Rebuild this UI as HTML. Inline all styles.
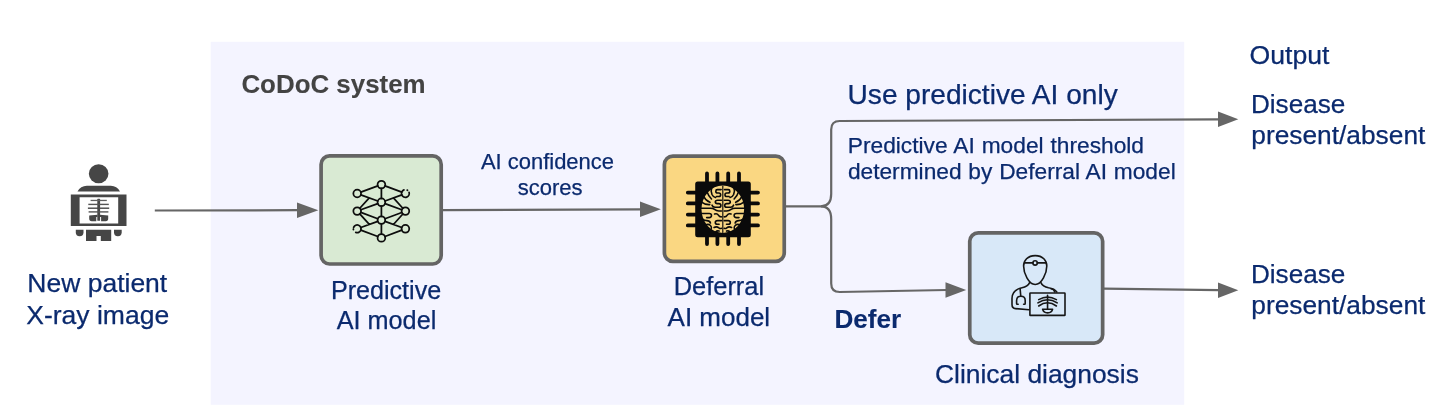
<!DOCTYPE html>
<html lang="en">
<head>
<meta charset="utf-8">
<title>CoDoC system</title>
<style>
html,body{margin:0;padding:0;background:#fff;}
body{width:1440px;height:417px;overflow:hidden;position:relative;font-family:"Liberation Sans",sans-serif;}
svg{position:absolute;left:0;top:0;display:block;will-change:transform;}
text{font-family:"Liberation Sans",sans-serif;}
.t{fill:#0b2a6e;stroke:#0b2a6e;stroke-width:0.25px;stroke-linejoin:round;}
.g{fill:#434343;stroke:#434343;stroke-width:0.25px;stroke-linejoin:round;}
</style>
</head>
<body>
<svg width="1440" height="417" viewBox="0 0 1440 417">
  <rect x="210.700" y="41.800" width="973.500" height="363" fill="#f4f4ff"/>

  <!-- connectors -->
  <g fill="none" stroke="#666" stroke-width="2.200" stroke-linecap="butt">
    <path d="M154.800 210.500L298 210.200"/>
    <path d="M443 210.200L641 209.300"/>
    <path d="M786 206.300H821Q831.200 206.300 831.200 194V129.500Q831.200 121 839.700 121L1219 119.400"/>
    <path d="M821 206.300Q831.200 206.300 831.200 219V283.500Q831.200 292 839.700 292L946.500 290"/>
    <path d="M1104 288.700L1219 290.200"/>
  </g>
  <g fill="#666">
    <path d="M297 202.400L318.300 210.200L297 218Z"/>
    <path d="M640 201.600L660.800 209.300L640 217Z"/>
    <path d="M945.500 282.200L966.200 290L945.500 297.800Z"/>
    <path d="M1218 111.600L1238.300 119.300L1218 127Z"/>
    <path d="M1218 282.500L1238.300 290.200L1218 297.900Z"/>
  </g>

  <!-- boxes -->
  <rect x="321.100" y="155.900" width="120.100" height="108.100" rx="8.500" fill="#d9ead3" stroke="#646464" stroke-width="3.700"/>
  <rect x="664.400" y="156.050" width="119.850" height="105.300" rx="8.500" fill="#fad782" stroke="#646464" stroke-width="3.700"/>
  <rect x="969.750" y="232.850" width="132.900" height="110.300" rx="8.500" fill="#d8e8f8" stroke="#646464" stroke-width="3.700"/>

  <!-- patient x-ray icon -->
  <g fill="#464646">
    <ellipse cx="98.650" cy="173.800" rx="9.800" ry="9.500"/>
    <path d="M77.500 191.400Q80.500 186.200 86.800 185.800H110.800Q117 186.200 120 191.400Z"/>
    <path fill-rule="evenodd" d="M70.800 194.400H126.500V225.900H70.800ZM79.600 197.200V223.600H118.200V197.200Z"/>
    <path d="M75.800 229.800H83.500V232.300A3.850 3.900 0 0 1 75.800 232.300Z"/>
    <path d="M114 229.800H121.700V232.300A3.850 3.900 0 0 1 114 232.300Z"/>
    <path d="M86 229.800H111.200V241H100.800V236.100H96.500V241H86Z"/>
    <rect x="97.300" y="198.800" width="2.800" height="22" rx="0.600"/>
    <rect x="90.600" y="199.800" width="16.200" height="1.300" fill="#606060"/>
    <rect x="88.300" y="203.700" width="20.500" height="1.400" fill="#555"/>
    <rect x="87.900" y="207.500" width="21.300" height="1.400"/>
    <rect x="88.600" y="211.200" width="19.800" height="1.400" fill="#555"/>
    <path d="M89.200 215.400L97.500 214.800V217H96.300V221.300H91.700Q89.200 221.300 89.200 218.600Z"/>
    <path d="M108.200 215.400L99.900 214.800V217H101.100V221.300H105.700Q108.200 221.300 108.200 218.600Z"/>
  </g>

  <!-- neural network icon -->
  <g fill="none" stroke="#0d0d0d" stroke-width="1.750" stroke-linecap="round">
    <path d="M381.40 188.45L381.40 198.45M381.40 206.15L381.40 216.25M381.40 223.95L381.40 234.05M360.81 192.17L377.79 185.93M360.82 194.82L377.78 200.98M360.82 209.78L377.78 203.62M360.81 212.44L377.79 218.76M360.82 227.50L377.78 221.40M360.80 230.16L377.80 236.54M359.80 208.26L369.27 197.89M359.78 213.96L369.27 224.46M401.79 192.16L385.01 185.94M401.79 194.83L385.01 200.97M401.79 209.77L385.01 203.63M401.80 212.45L385.00 218.75M401.78 227.49L385.02 221.41M401.80 230.16L385.00 236.54M402.82 208.25L393.43 197.89M402.83 213.97L393.43 224.46"/>
    <circle cx="381.4" cy="184.6" r="3.85"/>
    <circle cx="381.4" cy="202.3" r="3.85"/>
    <circle cx="381.4" cy="220.1" r="3.85"/>
    <circle cx="381.4" cy="237.9" r="3.85"/>
    <circle cx="357.2" cy="193.5" r="3.85"/>
    <circle cx="357.2" cy="211.1" r="3.85"/>
    <circle cx="405.4" cy="211.1" r="3.85"/>
    <circle cx="405.4" cy="228.8" r="3.85"/>
    <path d="M409.06 192.31A3.85 3.85 0 1 1 403.96 189.93M407.15 190.07A3.85 3.85 0 0 1 407.50 190.27"/>
    <path d="M353.63 227.36A3.85 3.85 0 1 1 355.76 232.37M353.42 229.53A3.85 3.85 0 0 1 353.36 229.14"/>
  </g>

  <!-- chip / brain icon -->
  <g>
    <g stroke="#0a0a0a" stroke-width="3.800" stroke-linecap="round" fill="none">
      <path d="M707 173.400V244M717.400 173.400V244M728.200 173.400V244M739 173.400V244"/>
      <path d="M687.800 192.600H758M687.800 203.400H758M687.800 214.600H758M687.800 225.400H758"/>
    </g>
    <rect x="695.200" y="181.400" width="55.600" height="55.800" rx="2.500" fill="#0a0a0a"/>
    <ellipse cx="722.800" cy="209.200" rx="21.300" ry="23.700" fill="#f7d684"/>
    <g transform="translate(698 183) scale(0.12723)" fill="none" stroke="#0a0a0a" stroke-width="12.500" stroke-linecap="round" stroke-linejoin="round">
      <path d="M195 24V390" stroke-width="9"/>
      <path d="M182 52H152Q140 52 140 64Q140 78 154 78H164Q178 78 178 92Q178 106 164 106H146M110 30Q98 60 110 90Q118 108 138 114M70 66Q82 102 106 126M44 104Q60 138 94 152M28 150Q56 172 92 170M184 136H154Q136 136 136 150Q136 162 152 162H164Q180 162 180 176Q180 190 164 190H134Q116 190 110 174M22 198H98Q118 198 130 208Q144 220 164 220H184M26 240H88Q106 240 106 256Q106 272 88 272H68M34 282Q50 296 70 296Q92 296 98 314M58 332Q80 318 98 334Q110 346 104 362M130 244Q150 236 160 252Q168 266 184 266M184 296H154Q136 296 136 310Q136 324 152 324H166M126 350Q146 338 164 352Q174 360 184 356M140 384Q150 372 166 378"/>
      <path transform="translate(390 0) scale(-1 1)" d="M182 52H152Q140 52 140 64Q140 78 154 78H164Q178 78 178 92Q178 106 164 106H146M110 30Q98 60 110 90Q118 108 138 114M70 66Q82 102 106 126M44 104Q60 138 94 152M28 150Q56 172 92 170M184 136H154Q136 136 136 150Q136 162 152 162H164Q180 162 180 176Q180 190 164 190H134Q116 190 110 174M22 198H98Q118 198 130 208Q144 220 164 220H184M26 240H88Q106 240 106 256Q106 272 88 272H68M34 282Q50 296 70 296Q92 296 98 314M58 332Q80 318 98 334Q110 346 104 362M130 244Q150 236 160 252Q168 266 184 266M184 296H154Q136 296 136 310Q136 324 152 324H166M126 350Q146 338 164 352Q174 360 184 356M140 384Q150 372 166 378"/>
    </g>
  </g>

  <!-- clinician icon -->
  <g fill="none" stroke="#161616" stroke-width="1.600" stroke-linecap="round" stroke-linejoin="round">
    <path d="M1035.200 255.600C1042.800 255.600 1046.800 260.600 1046.800 266C1046.800 273 1041.800 284.500 1035.200 284.500C1028.600 284.500 1023.600 273 1023.600 266C1023.600 260.600 1027.600 255.600 1035.200 255.600Z"/>
    <path d="M1024.600 262.900H1032.900M1037.300 262.900H1045.800"/>
    <circle cx="1035.100" cy="262.900" r="2.200"/>
    <path d="M1029.600 282.600Q1027.800 286.600 1022 287.800Q1012 289.800 1012 298.500V304.500Q1012 308.300 1015.500 308.600L1029 309.800"/>
    <path d="M1040.900 282.600Q1042.700 286.600 1048.500 287.800Q1054.500 288.700 1056.800 292"/>
    <path d="M1051 288.800Q1054 289.300 1054.800 292"/>
    <path d="M1020.100 288.600L1020.800 296.200"/>
    <path d="M1018.200 304.300H1017.200Q1016.600 304.300 1016.600 303.400V300.500Q1016.600 296.300 1020.900 296.300Q1025.200 296.300 1025.200 300.500V303.400Q1025.200 304.300 1024.600 304.300H1023.600"/>
    <rect x="1029.900" y="293" width="35.100" height="22.400" rx="0.500"/>
    <path d="M1047.550 295.400V309"/>
    <path d="M1038.700 299.600Q1047.550 294.600 1056.400 299.600M1037.900 302.800Q1047.550 296.600 1057.200 302.800M1038.700 306Q1047.550 299.600 1056.400 306"/>
    <path d="M1042.600 309.200H1052.600Q1051.800 312.900 1047.600 312.900Q1043.400 312.900 1042.600 309.200Z"/>
  </g>

  <!-- labels -->
  <text class="g" x="241.40" y="92.80" font-size="25.91" font-weight="bold" style="stroke-width:0.1px">CoDoC system</text>
  <text class="t" x="27.35" y="291.50" font-size="26.49">New patient</text>
  <text class="t" x="26.25" y="323.70" font-size="26.52">X-ray image</text>
  <text class="t" x="330.90" y="299.40" font-size="25.13">Predictive</text>
  <text class="t" x="336.70" y="329.10" font-size="25.24">AI model</text>
  <text class="t" x="480.90" y="168.50" font-size="21.98">AI confidence</text>
  <text class="t" x="517.65" y="195.40" font-size="22.05">scores</text>
  <text class="t" x="673.70" y="295.05" font-size="25.43">Deferral</text>
  <text class="t" x="667.55" y="326.40" font-size="26.01">AI model</text>
  <text class="t" x="847.55" y="104.20" font-size="28.10">Use predictive AI only</text>
  <text class="t" x="847.80" y="152.90" font-size="22.73" word-spacing="0.65">Predictive AI model threshold</text>
  <text class="t" x="847.90" y="179.10" font-size="22.73" word-spacing="0.5">determined by Deferral AI model</text>
  <text class="t" x="834.45" y="328.30" font-size="26.11" font-weight="bold" style="stroke-width:0.1px">Defer</text>
  <text class="t" x="935.05" y="383.05" font-size="26.39">Clinical diagnosis</text>
  <text class="t" x="1249.55" y="64.40" font-size="26.61">Output</text>
  <text class="t" x="1250.95" y="112.60" font-size="26.10">Disease</text>
  <text class="t" x="1251.35" y="143.90" font-size="26.30">present/absent</text>
  <text class="t" x="1250.95" y="282.60" font-size="26.10">Disease</text>
  <text class="t" x="1251.35" y="313.90" font-size="26.30">present/absent</text>
</svg>
</body>
</html>
